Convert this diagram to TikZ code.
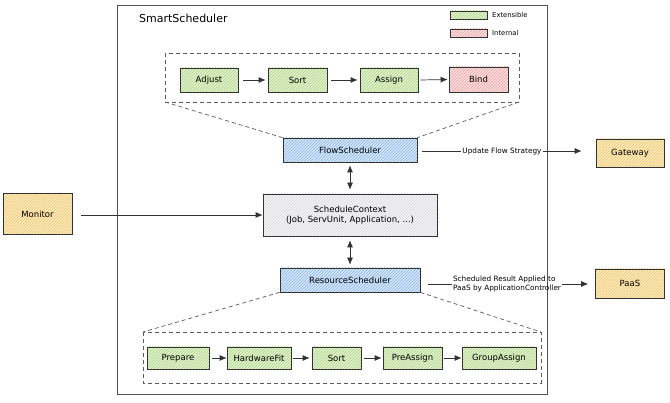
\documentclass[tikz,border=0pt]{standalone}
\usepackage{fontspec}
\setmainfont{DejaVu Sans}
\usetikzlibrary{arrows.meta,patterns}
\definecolor{gfill}{HTML}{E4F2D2}
\definecolor{gline}{HTML}{A9D47E}
\definecolor{rfill}{HTML}{FBE0E0}
\definecolor{rline}{HTML}{F0A0A0}
\definecolor{bfill}{HTML}{D6E6F8}
\definecolor{bline}{HTML}{8AB6E8}
\definecolor{ofill}{HTML}{FBEBC4}
\definecolor{oline}{HTML}{F2C462}
\definecolor{kfill}{HTML}{F4F4F6}
\definecolor{kline}{HTML}{D8D8DC}
\definecolor{ink}{HTML}{333333}
\begin{document}
\begin{tikzpicture}[x=1pt,y=-1pt,
  base/.style={draw=ink,line width=0.7pt,inner sep=1pt,font=\fontsize{8.5}{10.5}\selectfont,text=black},
  gbox/.style={base,preaction={fill=gfill},pattern=north east lines,pattern color=gline,minimum height=24pt},
  rbox/.style={base,preaction={fill=rfill},pattern=north east lines,pattern color=rline,minimum height=25pt},
  bbox/.style={base,preaction={fill=bfill},pattern=north east lines,pattern color=bline,minimum height=24pt},
  obox/.style={base,preaction={fill=ofill},pattern=north east lines,pattern color=oline},
  kbox/.style={base,preaction={fill=kfill},pattern=north east lines,pattern color=kline,align=center},
  legbox/.style={draw=ink,line width=0.6pt,minimum width=37pt,minimum height=8pt,inner sep=0pt},
  lbl/.style={font=\fontsize{7.3}{8.5}\selectfont,text=black,inner sep=1pt},
  arr/.style={draw=ink,line width=0.7pt,-{Latex[length=7pt,width=6pt]}},
  darr/.style={draw=ink,line width=0.7pt,{Latex[length=7pt,width=6pt]}-{Latex[length=7pt,width=6pt]}},
  plainline/.style={draw=ink,line width=0.7pt},
  dashline/.style={draw=ink!80,line width=0.7pt,dash pattern=on 4pt off 3pt}
]
\useasboundingbox (0,0) rectangle (670,403);
\fill[white] (0,0) rectangle (670,403);
% main frame
\draw[draw=ink!85,line width=0.9pt] (117,5) rectangle (547,394);
\node[anchor=west,font=\fontsize{11}{13}\selectfont,inner sep=0pt] (title) at (139,18) {SmartScheduler};
% legend
\node[legbox,preaction={fill=gfill},pattern=north east lines,pattern color=gline] (legg) at (468.5,15) {};
\node[legbox,preaction={fill=rfill},pattern=north east lines,pattern color=rline] (legr) at (468.5,33) {};
\node[anchor=west,font=\fontsize{6.8}{8}\selectfont,inner sep=0pt] (legt1) at (492,15) {Extensible};
\node[anchor=west,font=\fontsize{6.8}{8}\selectfont,inner sep=0pt] (legt2) at (492,33) {Internal};
% top dashed group
\coordinate (ttl) at (165,53);
\coordinate (tbr) at (519,102);
\coordinate (tbl) at (165,102);
\draw[dashline] (ttl) rectangle (tbr);
\node[gbox,minimum width=58pt] (adjust) at (209,80) {Adjust};
\node[gbox,minimum width=59pt] (sort1) at (297.5,80) {Sort};
\node[gbox,minimum width=58pt] (assign) at (389,80) {Assign};
\node[rbox,minimum width=59pt] (bind) at (478.5,79.5) {Bind};
\draw[arr] ([xshift=5pt]adjust.east) -- ([xshift=-2pt]sort1.west);
\draw[arr] ([xshift=4pt]sort1.east) -- ([xshift=-2pt]assign.west);
\draw[arr] ([xshift=2pt]assign.east) -- ([xshift=-1pt]bind.west);
% flow scheduler
\node[bbox,minimum width=134pt] (flow) at (350,150) {FlowScheduler};
\draw[dashline] (tbl) -- (flow.north west);
\draw[dashline] (tbr) -- (flow.north east);
% context
\node[kbox,minimum width=174pt,minimum height=42pt] (ctx) at (350,215) {ScheduleContext\\(Job, ServUnit, Application, ...)};
\draw[darr] ([yshift=-3pt]flow.south) -- ([yshift=4pt]ctx.north);
% resource scheduler
\node[bbox,minimum width=140pt] (res) at (350,280) {ResourceScheduler};
\draw[darr] ([yshift=-4pt]ctx.south) -- ([yshift=3pt]res.north);
% monitor
\node[obox,minimum width=69pt,minimum height=41pt] (mon) at (37.5,214) {Monitor};
\draw[arr] ([xshift=9pt]mon.east |- ctx.west) -- (ctx.west);
% gateway
\node[obox,minimum width=68pt,minimum height=28pt] (gw) at (630,153) {Gateway};
\node[lbl] (ufs) at (502,151) {Update Flow Strategy};
\draw[plainline] ([xshift=5pt]flow.east |- ufs.west) -- (ufs.west);
\draw[arr] (ufs.east) -- ([xshift=-14pt]gw.west |- ufs.east);
% paas
\node[obox,minimum width=69pt,minimum height=29pt] (paas) at (630,283.5) {PaaS};
\node[lbl,align=left] (sra) at (507,284) {Scheduled Result Applied to\\PaaS by ApplicationController};
\draw[plainline] ([xshift=8pt]res.east |- sra.west) -- (sra.west);
\draw[arr] (sra.east) -- ([xshift=-7pt]paas.west |- sra.east);
% bottom dashed group
\coordinate (btl) at (143,332);
\coordinate (bbr) at (541,383);
\coordinate (btr) at (541,332);
\draw[dashline] (btl) rectangle (bbr);
\draw[dashline] (res.south west) -- (btl);
\draw[dashline] (res.south east) -- (btr);
\node[gbox,minimum width=62pt,minimum height=22pt] (prep) at (178,358) {Prepare};
\node[gbox,minimum width=64pt,minimum height=22pt] (hw) at (259,358) {HardwareFit};
\node[gbox,minimum width=49pt,minimum height=22pt] (sort2) at (336.5,358) {Sort};
\node[gbox,minimum width=59pt,minimum height=22pt] (pre) at (412.5,358) {PreAssign};
\node[gbox,minimum width=74pt,minimum height=22pt] (grp) at (499,358) {GroupAssign};
\draw[arr] ([xshift=3pt]prep.east) -- (hw.west);
\draw[arr] ([xshift=2pt]hw.east) -- ([xshift=-2pt]sort2.west);
\draw[arr] ([xshift=3pt]sort2.east) -- ([xshift=-1pt]pre.west);
\draw[arr] ([xshift=2pt]pre.east) -- (grp.west);
\end{tikzpicture}
\end{document}
